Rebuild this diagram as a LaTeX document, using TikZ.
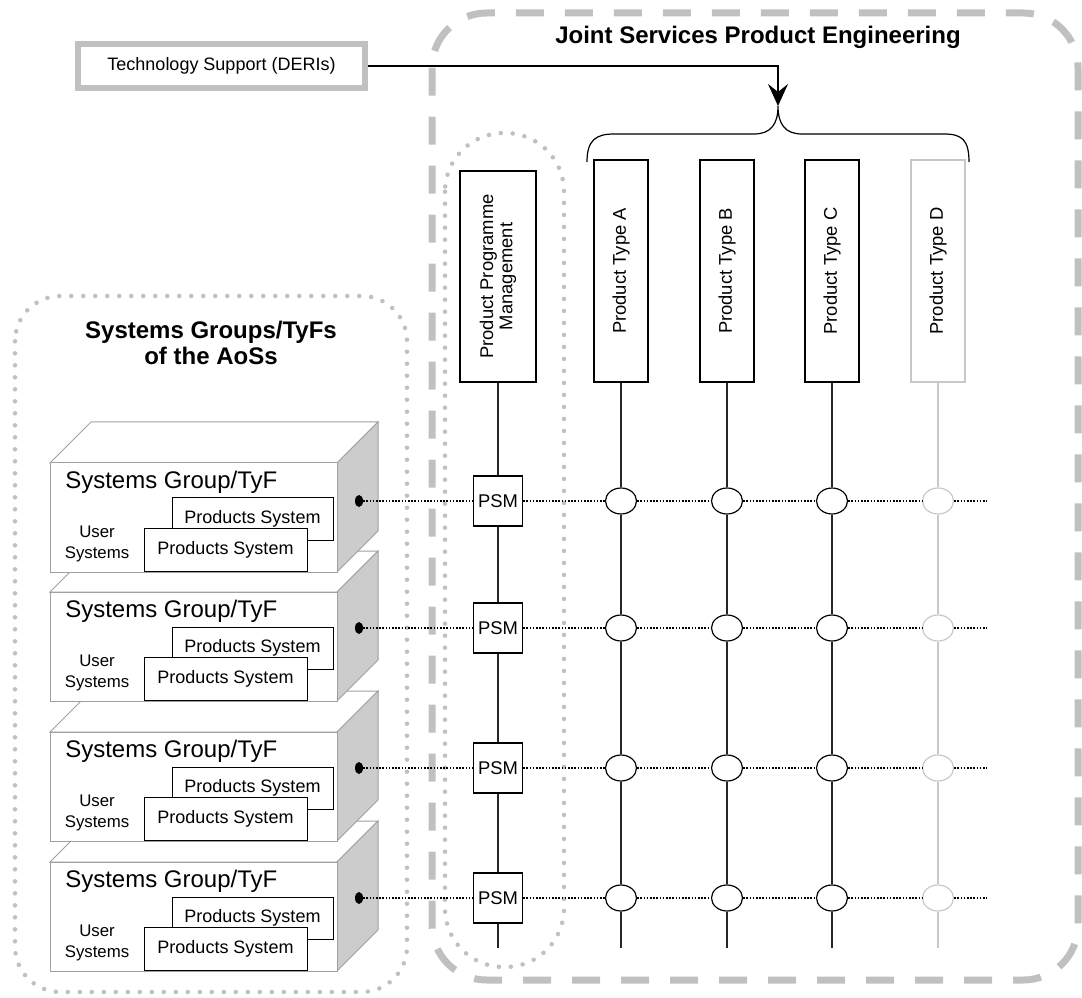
\documentclass[tikz,border=0pt]{standalone}
\usepackage{fontspec}
\setmainfont{Liberation Sans}
\usetikzlibrary{arrows.meta,shapes.geometric}
\definecolor{lg}{HTML}{C0C0C0}
\definecolor{face}{HTML}{CCCCCC}
\definecolor{edge}{HTML}{A0A0A0}
\definecolor{dgray}{HTML}{C8C8C8}
\newcommand\sgcube[3]{%
  \filldraw[fill=white, draw=edge, line width=0.75pt] (50,#1) -- (91,#1-41) -- (378,#1-41) -- (337,#1) -- cycle;
  \filldraw[fill=face, draw=edge, line width=0.75pt] (337,#1) -- (378,#1-41) -- (378,#1+68) -- (337,#1+109) -- cycle;
  \node[draw=edge, fill=white, line width=0.75pt, minimum width=215.25pt, minimum height=81.75pt, inner sep=0pt] (front#3) at (193.5,#1+54.5) {};
  \node[anchor=west, font=\fontsize{18}{21}\selectfont, inner sep=0pt] (sg#3) at (65,#1+19) {Systems Group/TyF};
  \node[psys] (psb#3) at (252.5,#1+56) {Products System};
  \node[psys, minimum width=122.25pt, minimum height=32.25pt] (psf#3) at (225.5,#1+86.5) {Products System};
  \node[align=center, font=\fontsize{12.6}{15.75}\selectfont, inner sep=0pt] (us#3) at (97,#1+81) {User\\Systems};
  \node[ellipse, fill=black, minimum width=6pt, minimum height=9pt, inner sep=0pt] (dot#3) at (359,#2) {};
}
\begin{document}
\begin{tikzpicture}[x=0.75pt,y=-0.75pt,
  bigdash/.style={draw=lg, line width=5.25pt, dash pattern=on 21pt off 15.75pt, rounded corners=41pt},
  dotgray/.style={draw=lg, line width=3.4pt, line cap=round, dash pattern=on 0pt off 9pt},
  vbox/.style={draw, line width=0.9pt, fill=white, inner sep=0pt, minimum width=40.5pt, minimum height=166.5pt},
  vlabel/.style={rotate=90, font=\fontsize{13.8}{14.5}\selectfont, inner sep=0pt, align=center},
  psmbox/.style={draw, line width=0.9pt, fill=white, minimum width=36.75pt, minimum height=37.5pt, inner sep=0pt, font=\fontsize{13.8}{16}\selectfont},
  hub/.style={ellipse, draw, line width=0.9pt, fill=white, minimum width=23.25pt, minimum height=19.5pt, inner sep=0pt},
  vline/.style={line width=0.9pt, draw=black!85},
  hline/.style={line width=1.2pt, dash pattern=on 1.2pt off 1.2pt},
  psys/.style={draw, fill=white, line width=0.75pt, minimum width=120.75pt, minimum height=31.5pt, inner sep=0pt, font=\fontsize{13.5}{16}\selectfont},
  title/.style={font=\bfseries\fontsize{18}{19.5}\selectfont, align=center, inner sep=0pt}]
\useasboundingbox (0,0) rectangle (1082,998);

% frames
\draw[bigdash] (432,13) rectangle (1078,980);
\draw[dotgray, rounded corners=34pt] (15,296) rectangle (407,992);
\draw[dotgray, rounded corners=44pt] (445,133) rectangle (564,967);

% titles
\node[title] (jspe) at (758,37) {Joint Services Product Engineering};
\node[title] (sgt) at (211,343) {Systems Groups/TyFs\\of the AoSs};

% technology support
\node[draw=lg, line width=4.5pt, fill=white, minimum width=215.25pt, minimum height=33pt, inner sep=0pt, font=\fontsize{13.5}{16}\selectfont] (tech) at (221.5,66) {Technology Support (DERIs)};
\coordinate (bracetip) at (778,106);
\draw[line width=0.9pt] (587,162) .. controls (587,140) and (596,134) .. (614,134) -- (754,134) .. controls (771,134) and (778,124) .. (778,106) .. controls (778,124) and (785,134) .. (802,134) -- (944,134) .. controls (962,134) and (969,140) .. (969,162);
\draw[line width=0.9pt, -{Stealth[length=16.5pt, width=15pt, inset=6pt]}] (tech.east) -| (bracetip);

% vertical boxes
\node[vbox, minimum width=57pt, minimum height=158.25pt] (ppm) at (498,276.5) {};
\node[vlabel] (ppmtext) at (ppm) {Product Programme\\Management};
\node[vbox] (ptA) at (621,271) {};
\node[vlabel] (ptAtext) at (ptA) {Product Type A};
\node[vbox] (ptB) at (727,271) {};
\node[vlabel] (ptBtext) at (ptB) {Product Type B};
\node[vbox] (ptC) at (832,271) {};
\node[vlabel] (ptCtext) at (ptC) {Product Type C};
\node[vbox, draw=dgray] (ptD) at (938,271) {};
\node[vlabel] (ptDtext) at (ptD) {Product Type D};

% cubes (back to front)
\sgcube{862}{898}{4}
\sgcube{732}{768}{3}
\sgcube{592}{628}{2}
\sgcube{463}{501}{1}

% grid nodes
\foreach \i/\y in {1/501,2/628,3/768,4/898}{
  \node[psmbox] (psm\i) at (498,\y) {PSM};
  \node[hub] (a\i) at (621,\y) {};
  \node[hub] (b\i) at (727,\y) {};
  \node[hub] (c\i) at (832,\y) {};
  \node[hub, draw=dgray] (d\i) at (938,\y) {};
  \coordinate (hend\i) at (987,\y);
}
\coordinate (endP) at (498,948);
\coordinate (endA) at (621,948);
\coordinate (endB) at (727,948);
\coordinate (endC) at (832,948);
\coordinate (endD) at (938,948);

\draw[vline] (ppm) -- (psm1) -- (psm2) -- (psm3) -- (psm4) -- (endP);
\draw[vline] (ptA) -- (a1) -- (a2) -- (a3) -- (a4) -- (endA);
\draw[vline] (ptB) -- (b1) -- (b2) -- (b3) -- (b4) -- (endB);
\draw[vline] (ptC) -- (c1) -- (c2) -- (c3) -- (c4) -- (endC);
\draw[vline, draw=dgray] (ptD) -- (d1) -- (d2) -- (d3) -- (d4) -- (endD);

\foreach \i in {1,2,3,4}{
  \draw[hline] (dot\i) -- (psm\i) -- (a\i) -- (b\i) -- (c\i) -- (d\i) -- (hend\i);
}
\end{tikzpicture}
\end{document}
